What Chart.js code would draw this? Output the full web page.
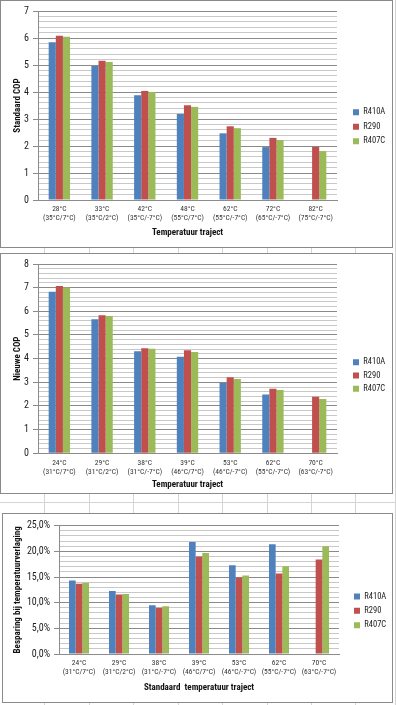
<!DOCTYPE html>
<html><head><meta charset="utf-8">
<script src="https://cdn.jsdelivr.net/npm/chart.js@4.4.1/dist/chart.umd.min.js"></script>
<style>
html,body{margin:0;padding:0;background:#fff;width:396px;height:705px;overflow:hidden;position:relative}
.frame{position:absolute;border:1px solid #8a8a8a;background:#fff;box-sizing:border-box;z-index:2}
.frame canvas{display:block}
.vl{position:absolute;top:0;width:1px;height:705px;background:#d4d4d4;z-index:1}
.hl{position:absolute;left:0;height:1px;width:396px;background:#d4d4d4;z-index:1}
</style></head><body>
<div id="bg"></div>
<div class="frame" style="left:0;top:0;width:393px;height:248px"><canvas id="c1" width="391" height="246"></canvas></div>
<div class="frame" style="left:0;top:253px;width:393px;height:241px"><canvas id="c2" width="391" height="239"></canvas></div>
<div class="frame" style="left:2px;top:513px;width:391px;height:190px"><canvas id="c3" width="389" height="188"></canvas></div>
<script>
// ---- data ----
const seriesNames = ['R410A', 'R290', 'R407C'];

const tempLabels1 = ['28°C', '33°C', '42°C', '48°C', '62°C', '72°C', '82°C'];
const rangeLabels1 = ['(35°C/7°C)', '(35°C/2°C)', '(35°C/-7°C)', '(55°C/7°C)', '(55°C/-7°C)', '(65°C/-7°C)', '(75°C/-7°C)'];
const stdR410A = [5.84, 4.96, 3.88, 3.19, 2.47, 1.96, null];
const stdR290  = [6.08, 5.16, 4.04, 3.51, 2.73, 2.30, 1.97];
const stdR407C = [6.05, 5.11, 4.00, 3.45, 2.66, 2.22, 1.81];

const tempLabels2 = ['24°C', '29°C', '38°C', '39°C', '53°C', '62°C', '70°C'];
const rangeLabels2 = ['(31°C/7°C)', '(31°C/2°C)', '(31°C/-7°C)', '(46°C/7°C)', '(46°C/-7°C)', '(55°C/-7°C)', '(63°C/-7°C)'];
const newR410A = [6.83, 5.66, 4.31, 4.08, 2.98, 2.49, null];
const newR290  = [7.07, 5.83, 4.44, 4.36, 3.21, 2.73, 2.39];
const newR407C = [7.01, 5.80, 4.42, 4.28, 3.14, 2.67, 2.29];

const savR410A = [14.3, 12.3, 9.5, 21.8, 17.3, 21.4, null];
const savR290  = [13.7, 11.6, 9.0, 19.0, 14.9, 15.7, 18.4];
const savR407C = [13.9, 11.7, 9.3, 19.7, 15.3, 17.1, 21.0];

const seriesColors = ['#4F81BD', '#C0504D', '#9BBB59'];

// ---- background spreadsheet grid ----
const bg = document.getElementById('bg');
[44, 89, 133, 178, 222, 267, 311, 355, 395].forEach(x => {
  const d = document.createElement('div'); d.className = 'vl'; d.style.left = x + 'px'; bg.appendChild(d);
});
[502].forEach(y => {
  const d = document.createElement('div'); d.className = 'hl'; d.style.top = y + 'px'; bg.appendChild(d);
});

function pickFont(cands, fallback) {
  const c = document.createElement('canvas').getContext('2d');
  const s = 'R410A Temperatuur (35°C/7°C) 0123456789';
  for (const f of cands) {
    c.font = '20px monospace'; const w1 = c.measureText(s).width;
    c.font = '20px "' + f + '", monospace'; const w2 = c.measureText(s).width;
    c.font = '20px serif'; const w3 = c.measureText(s).width;
    c.font = '20px "' + f + '", serif'; const w4 = c.measureText(s).width;
    if (w1 !== w2 && w3 !== w4) return f;
  }
  return fallback;
}
const FONT = pickFont(['Liberation Sans Narrow', 'Roboto Condensed', 'Open Sans Condensed'], 'Lato');
Chart.defaults.font.family = FONT;
Chart.defaults.color = '#222';

const isMul = (v, m) => Math.abs(v / m - Math.round(v / m)) < 1e-6;

// places the built-in legend: fixes the plot's right edge and the legend's item column
const legendPlace = {
  id: 'legendPlace',
  beforeLayout(chart, args, opts) {
    const l = chart.legend;
    if (l && !l._placed) {
      const f = l.fit;
      l.fit = function () { f.call(this); this.width = chart.width - opts.plotRight; };
      l._placed = true;
    }
  },
  afterLayout(chart, args, opts) {
    const l = chart.legend;
    if (!l) return;
    const pad = l.options.labels.padding;
    const dx = opts.itemX - pad - l.left;
    l.left += dx; l.right += dx;
    l.top += opts.dy; l.bottom += opts.dy;
  }
};

function makeChart(id, o) {
  const labels = o.top.map((t, i) => [t, o.bottom[i]]);
  const H = document.getElementById(id).height;
  return new Chart(document.getElementById(id), {
    type: 'bar',
    plugins: [legendPlace],
    data: {
      labels,
      datasets: o.series.map((d, i) => ({
        label: seriesNames[i], data: d, backgroundColor: seriesColors[i], borderWidth: 0,
        barPercentage: 1.0, categoryPercentage: 0.5
      }))
    },
    options: {
      responsive: false, animation: false, devicePixelRatio: 1,
      layout: { padding: { top: o.top0, right: 0, bottom: 0, left: 0 } },
      plugins: {
        tooltip: { enabled: false },
        legendPlace: { plotRight: 336, itemX: o.itemX, dy: o.dy },
        legend: {
          position: 'right',
          labels: { boxWidth: 6, boxHeight: 6, padding: o.legPad, font: { size: 8.5 }, color: '#222' }
        }
      },
      scales: {
        x: {
          grid: { display: false, drawTicks: false },
          border: { display: true, color: '#8c8c8c' },
          ticks: { autoSkip: false, maxRotation: 0, minRotation: 0, padding: 5, font: { size: 7.5, lineHeight: 1.2 }, color: '#333' },
          title: { display: true, text: o.xTitle, font: { size: 9, weight: 'bold' }, color: '#111', padding: { top: 0, bottom: o.xTitlePadB } },
          afterFit: s => { s.height = H - o.bottom0; }
        },
        y: {
          min: 0, max: o.max,
          grid: {
            color: c => (c.tick && isMul(c.tick.value, o.major)) ? '#8a8a8a' : '#c8c8c8',
            tickColor: c => (c.tick && isMul(c.tick.value, o.major)) ? '#8a8a8a' : 'rgba(0,0,0,0)',
            tickLength: 5, lineWidth: 1
          },
          border: { display: true, color: '#8c8c8c' },
          ticks: {
            stepSize: o.step, autoSkip: false, padding: 4, font: { size: 10 }, color: '#222',
            callback: v => isMul(v, o.major) ? o.fmt(v) : ''
          },
          title: { display: true, text: o.yTitle, font: { size: 9, weight: 'bold' }, color: '#111', padding: { top: o.yTitlePadT, bottom: 0 } },
          afterFit: s => { s.width = o.left0; }
        }
      }
    }
  });
}

makeChart('c1', {
  top: tempLabels1, bottom: rangeLabels1, series: [stdR410A, stdR290, stdR407C],
  max: 7, step: 0.2, major: 1, fmt: v => String(Math.round(v)),
  xTitle: 'Temperatuur traject', yTitle: 'Standaard COP',
  top0: 9.5, bottom0: 199, left0: 37, legPad: 5.9, itemX: 352, dy: -2, xTitlePadB: 9, yTitlePadT: 11
});
makeChart('c2', {
  top: tempLabels2, bottom: rangeLabels2, series: [newR410A, newR290, newR407C],
  max: 8, step: 0.2, major: 1, fmt: v => String(Math.round(v)),
  xTitle: 'Temperatuur traject', yTitle: 'Nieuwe COP',
  top0: 10, bottom0: 199.3, left0: 37, legPad: 4.7, itemX: 352, dy: -3, xTitlePadB: 3, yTitlePadT: 11
});
makeChart('c3', {
  top: tempLabels2, bottom: rangeLabels2, series: [savR410A, savR290, savR407C],
  max: 25, step: 1, major: 5, fmt: v => v.toFixed(1).replace('.', ',') + '%',
  xTitle: 'Standaard  temperatuur traject', yTitle: 'Besparing bij temperatuurverlaging',
  top0: 11.7, bottom0: 140, left0: 56, legPad: 5.9, itemX: 351, dy: -3, xTitlePadB: 9, yTitlePadT: 9
});
</script>
</body></html>
